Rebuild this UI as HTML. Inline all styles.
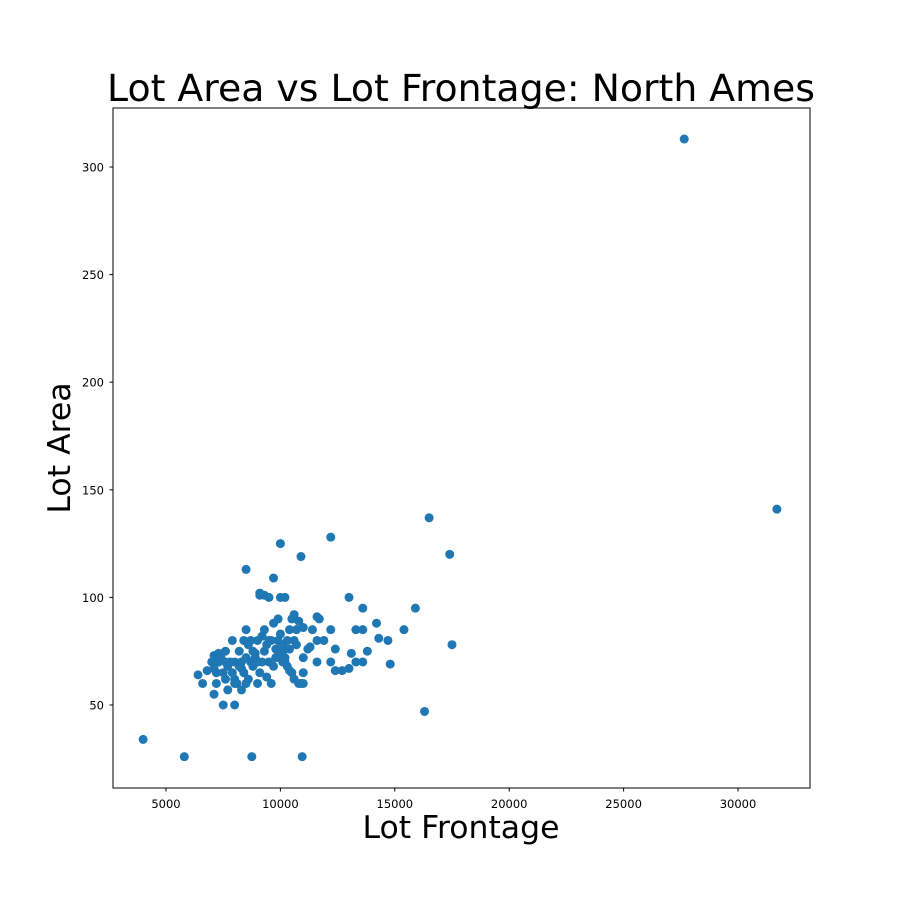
<!DOCTYPE html>
<html><head><meta charset="utf-8"><style>
body{margin:0;background:#fff;font-family:"DejaVu Sans","Liberation Sans",sans-serif}
</style></head><body>
<svg id="chart" width="900" height="900" xmlns="http://www.w3.org/2000/svg" font-family="DejaVu Sans, Liberation Sans, sans-serif">
<rect width="900" height="900" fill="#fff"/>
<text x="461" y="101" font-size="37.8" text-anchor="middle">Lot Area vs Lot Frontage: North Ames</text>
<text x="461" y="838" font-size="31.5" text-anchor="middle">Lot Frontage</text>
<text transform="translate(70,448) rotate(-90)" font-size="31.5" text-anchor="middle">Lot Area</text>
<g id="marks"></g>
<g id="axes"></g>
<rect x="113" y="108" width="697" height="680" fill="none" stroke="#000" stroke-width="1"/>
</svg>
<script>
const xTicks=[5000,10000,15000,20000,25000,30000];
const yTicks=[50,100,150,200,250,300];
const frontage=[27650,31700,4000,5800,8750,10950,16300,16500,17400,17500,12200,10000,10900,8500,9700,15900,15400,14800,14700,14200,14300,13800,13600,13600,13300,13600,13300,13100,13000,13000,12700,12400,12400,12200,12200,11900,11700,11600,11600,11600,11400,11300,11200,11000,11000,11000,10900,10800,11000,10800,
6400,6600,6800,7000,7100,7100,7200,7200,7300,7400,7500,7500,7600,7600,7700,7700,7800,7900,7900,8000,8000,8000,8100,8200,8200,8300,8300,8400,8400,8500,8500,8500,8600,8600,8700,8700,8800,8800,8900,9000,9000,9000,9100,9100,9200,9200,9300,9300,9400,9400,9500,9500,9600,9600,9700,9700,9800,9800,9900,9900,10000,10000,10000,10100,10100,10200,10200,10300,10300,10400,10400,10500,10500,10600,10600,10700,10700,10100,9300,9100,9500,10200,8000,7300,7100,7600,8300,9800,10400,10600,8900];
const area=[313,141,34,26,26,26,47,137,120,78,128,125,119,113,109,95,85,69,80,88,81,75,95,85,85,70,70,74,100,67,66,66,76,85,70,80,90,91,70,80,85,77,76,72,65,86,60,60,60,89,
64,60,66,70,55,73,60,65,70,72,50,65,62,75,57,68,70,65,80,50,62,70,60,68,75,57,70,80,65,85,72,60,62,78,70,80,68,75,72,60,70,80,65,101,82,70,85,75,63,78,100,70,60,80,88,68,72,76,90,80,100,73,83,70,78,100,72,80,68,76,85,65,90,80,92,78,85,75,101,102,80,70,60,74,67,70,67,72,66,62,74];
const X=v=>166+(v-5000)/5000*114.4;
const Y=v=>167+(300-v)/50*107.6;
const NS="http://www.w3.org/2000/svg";
const marks=document.getElementById('marks'),axes=document.getElementById('axes');
const n=Math.min(frontage.length,area.length);
for(let i=0;i<n;i++){
 const c=document.createElementNS(NS,'circle');
 c.setAttribute('cx',X(frontage[i]));c.setAttribute('cy',Y(area[i]));c.setAttribute('r',4.5);c.setAttribute('fill','#1f77b4');
 
 
 marks.appendChild(c);
}
xTicks.forEach(t=>{
 const l=document.createElementNS(NS,'line');l.setAttribute('x1',X(t));l.setAttribute('x2',X(t));l.setAttribute('y1',788);l.setAttribute('y2',791.5);l.setAttribute('stroke','#000');axes.appendChild(l);
 const s=document.createElementNS(NS,'text');s.setAttribute('x',X(t));s.setAttribute('y',808);s.setAttribute('font-size','11.5');s.setAttribute('text-anchor','middle');s.textContent=t;
 
 
 axes.appendChild(s);
});
yTicks.forEach(t=>{
 const l=document.createElementNS(NS,'line');l.setAttribute('x1',109.5);l.setAttribute('x2',113);l.setAttribute('y1',Y(t));l.setAttribute('y2',Y(t));l.setAttribute('stroke','#000');axes.appendChild(l);
 const s=document.createElementNS(NS,'text');s.setAttribute('x',104);s.setAttribute('y',Y(t)+4.5);s.setAttribute('font-size','11.5');s.setAttribute('text-anchor','end');s.textContent=t;
 
 
 axes.appendChild(s);
});
</script>
</body></html>
